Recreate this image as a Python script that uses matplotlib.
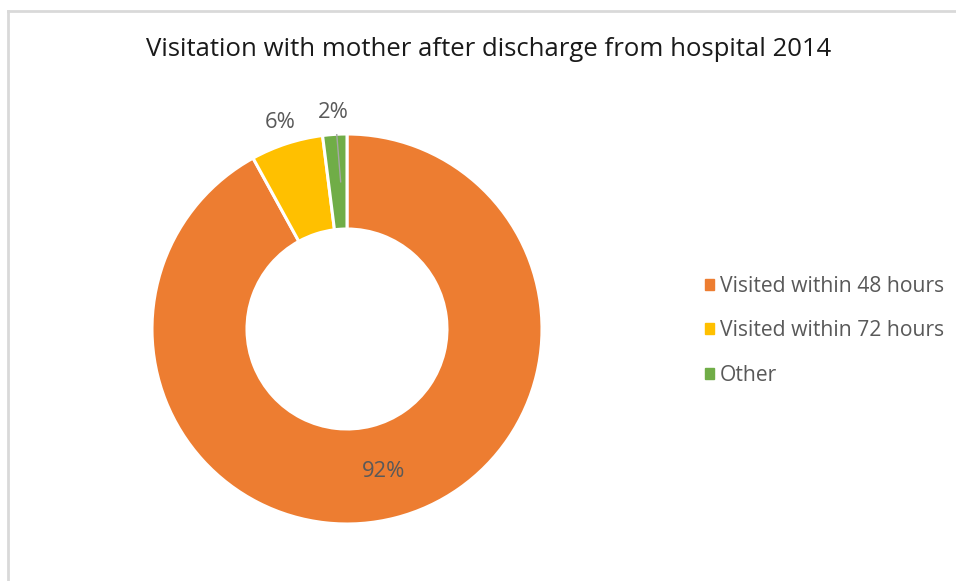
import matplotlib.pyplot as plt
import numpy as np
from matplotlib.lines import Line2D

plt.rcParams['font.family'] = ['Open Sans', 'DejaVu Sans']

# data
categories = ["Visited within 48 hours", "Visited within 72 hours", "Other"]
shares = [92, 6, 2]
colors = ["#ED7D31", "#FFC000", "#70AD47"]
title = "Visitation with mother after discharge from hospital 2014"

W, H = 956, 581
fig = plt.figure(figsize=(W / 100, H / 100), dpi=100)

# donut center / radius in pixels
cx, cy, R = 347, 329, 195
ax = fig.add_axes([(cx - R) / W, (H - cy - R) / H, 2 * R / W, 2 * R / H])

inner = 100 / R
wedges, _ = ax.pie(shares, colors=colors, startangle=90, counterclock=False,
                   radius=1, wedgeprops=dict(width=1 - inner, edgecolor="white", linewidth=2.2))
ax.set_xlim(-1, 1)
ax.set_ylim(-1, 1)
ax.set_aspect("equal")
ax.axis("off")

mid_r = (1 + inner) / 2
for w, v in zip(wedges, shares):
    ang = np.deg2rad((w.theta1 + w.theta2) / 2)
    if v >= 10:
        r = mid_r
    else:
        r = 1.115
    ax.text(r * np.cos(ang), r * np.sin(ang), f"{v}%", ha="center", va="center",
            fontsize=15.8, color="#595959")
    if v < 3:
        ax.plot([1.01 * np.cos(ang) + 0.01, mid_r * np.cos(ang) + 0.015],
                [1.01 * np.sin(ang), mid_r * np.sin(ang)],
                color="#A6A6A6", lw=1)

fig.text(489 / W, 1 - 50 / H, title, ha="center", va="center", fontsize=18.5, color="#1a1a1a")

handles = [plt.Rectangle((0, 0), 1, 1, color=c) for c in colors]
fig.legend(handles, categories, loc="center left", bbox_to_anchor=(686 / W, 1 - 331 / H),
           frameon=False, fontsize=15.2, labelcolor="#595959", handlelength=0.42,
           handleheight=0.42, handletextpad=0.3, labelspacing=1.1)

# outer border
fig.add_artist(Line2D([8 / W, 8 / W], [0, 1 - 11 / H], color="#D9D9D9", lw=2))
fig.add_artist(Line2D([8 / W, 1], [1 - 11 / H, 1 - 11 / H], color="#D9D9D9", lw=2))

fig.savefig("out.png", dpi=100, facecolor="white")
